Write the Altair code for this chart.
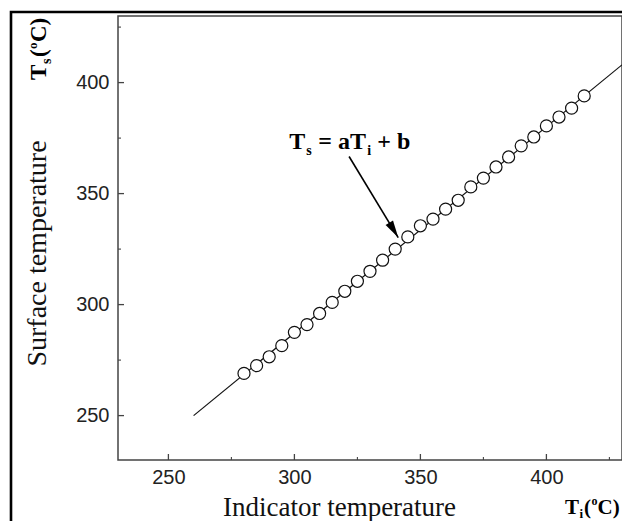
import altair as alt
import pandas as pd

# ---- data ----
indicator_T = [280, 285, 290, 295, 300, 305, 310, 315, 320, 325, 330, 335, 340, 345,
               350, 355, 360, 365, 370, 375, 380, 385, 390, 395, 400, 405, 410, 415]
surface_T = [269, 272.5, 276.5, 281.5, 287.5, 291, 296, 301, 306, 310.5, 315, 320, 325, 330.5,
             335.5, 338.5, 343, 347, 353, 357, 362, 366.5, 371.5, 375.5, 380.5, 384.5, 388.5, 394]
fit_x = [260, 430]
fit_y = [250, 408]
x_major = [250, 300, 350, 400]
x_minor = [275, 325, 375, 425]
y_major = [250, 300, 350, 400]
y_minor = [275, 325, 375, 425]
x_domain = [230, 430]
y_domain = [230, 430]
# annotation anchor (data coordinates) and arrow (start -> tip)
annot_x = [298]
annot_y = [370]
arrow_x = [321.7, 341.2]
arrow_y = [366.7, 330.2]

W, H = 504, 444
AX = "#444444"

xs = alt.Scale(domain=x_domain, nice=False, zero=False)
ys = alt.Scale(domain=y_domain, nice=False, zero=False)

pts = pd.DataFrame({"x": indicator_T, "y": surface_T})
fit = pd.DataFrame({"x": fit_x, "y": fit_y})
one = pd.DataFrame({"k": [0]})

x_axis = alt.Axis(values=x_major, ticks=False, domain=False, grid=False,
                  labelFont="Liberation Sans", labelFontSize=20, labelColor="#222222",
                  labelPadding=7,
                  title="Indicator temperature", titleFont="Liberation Serif",
                  titleFontSize=27, titleFontWeight="normal", titleColor="#111111",
                  titleX=221, titleY=55, titleAlign="center", titleBaseline="alphabetic")
y_axis = alt.Axis(values=y_major, ticks=False, domain=False, grid=False,
                  labelFont="Liberation Sans", labelFontSize=20, labelColor="#222222",
                  labelPadding=9,
                  title="Surface temperature", titleFont="Liberation Serif",
                  titleFontSize=28, titleFontWeight="normal", titleColor="#111111",
                  titleAngle=270, titleX=-73, titleY=237, titleAlign="center",
                  titleBaseline="alphabetic")

line = alt.Chart(fit).mark_line(color="#111111", strokeWidth=1.2).encode(
    x=alt.X("x:Q", scale=xs, axis=x_axis),
    y=alt.Y("y:Q", scale=ys, axis=y_axis),
)

points = alt.Chart(pts).mark_point(shape="circle", size=145, filled=False, fill="white",
                                   fillOpacity=1, stroke="#111111", strokeWidth=1.2,
                                   opacity=1).encode(
    x=alt.X("x:Q", scale=xs), y=alt.Y("y:Q", scale=ys))

# inward ticks
xmaj = alt.Chart(pd.DataFrame({"v": x_major})).mark_rule(color=AX, strokeWidth=1.3).encode(
    x=alt.X("v:Q", scale=xs), y=alt.value(H), y2=alt.value(H - 6))
xmin = alt.Chart(pd.DataFrame({"v": x_minor})).mark_rule(color=AX, strokeWidth=1.1).encode(
    x=alt.X("v:Q", scale=xs), y=alt.value(H), y2=alt.value(H - 3))
ymaj = alt.Chart(pd.DataFrame({"v": y_major})).mark_rule(color=AX, strokeWidth=1.3).encode(
    y=alt.Y("v:Q", scale=ys), x=alt.value(0), x2=alt.value(6))
ymin = alt.Chart(pd.DataFrame({"v": y_minor})).mark_rule(color=AX, strokeWidth=1.1).encode(
    y=alt.Y("v:Q", scale=ys), x=alt.value(0), x2=alt.value(3))

# annotation
ann = pd.DataFrame({"x": annot_x, "y": annot_y})
def ann_piece(txt, dx, dy, size):
    return alt.Chart(ann).mark_text(text=txt, font="Liberation Serif", fontWeight="bold",
                                    fontSize=size, align="left", baseline="alphabetic",
                                    dx=dx, dy=dy, color="#000000").encode(
        x=alt.X("x:Q", scale=xs), y=alt.Y("y:Q", scale=ys))

annotation = [
    ann_piece("T", 0, 0, 24),
    ann_piece("s", 17, 6, 14),
    ann_piece("= aT", 29, 0, 24),
    ann_piece("i", 78, 6, 14),
    ann_piece("+ b", 88, 0, 24),
]

arr = pd.DataFrame({"x": arrow_x, "y": arrow_y})
arrow_line = alt.Chart(arr).mark_line(color="#000000", strokeWidth=1.6).encode(
    x=alt.X("x:Q", scale=xs), y=alt.Y("y:Q", scale=ys))
arrow_head = alt.Chart(pd.DataFrame({"x": arrow_x[1:], "y": arrow_y[1:]})).mark_point(
    shape="M0,0L0.5,2L-0.5,2Z", size=300, filled=True, color="#000000", opacity=1,
    angle=149).encode(x=alt.X("x:Q", scale=xs), y=alt.Y("y:Q", scale=ys))

# unit labels beside the axis titles
def unit_piece(txt, x, y, size, angle=0):
    return alt.Chart(one).mark_text(text=txt, font="Liberation Serif", fontWeight="bold",
                                    fontSize=size, align="left", baseline="alphabetic",
                                    angle=angle, color="#000000").encode(
        x=alt.value(x), y=alt.value(y))

# vertical "Ts(oC)" reading bottom to top
yunit = [
    unit_piece("T", -72, 64, 23, 270),
    unit_piece("s", -67, 48, 14, 270),
    unit_piece("(", -72, 41, 23, 270),
    unit_piece("o", -81, 33, 13, 270),
    unit_piece("C)", -72, 26, 23, 270),
]
# horizontal "Ti(oC)"
xunit = [
    unit_piece("T", 447, 498, 21),
    unit_piece("i", 461.5, 502, 13),
    unit_piece("(", 466, 498, 21),
    unit_piece("o", 473.5, 489, 12),
    unit_piece("C)", 479.5, 498, 21),
]

# outer black frame of the figure (right/bottom edges fall outside the page)
frame = alt.Chart(one).mark_rect(fillOpacity=0, stroke="#000000", strokeWidth=2.6).encode(
    x=alt.value(-107), x2=alt.value(560), y=alt.value(-4), y2=alt.value(560))

chart = alt.layer(
    frame, line, xmaj, xmin, ymaj, ymin, points, arrow_line, arrow_head,
    *annotation, *yunit, *xunit
).properties(
    width=W, height=H,
    autosize=alt.AutoSizeParams(type="none"),
    padding={"left": 110, "top": 8, "right": 0, "bottom": 61},
    background="white",
).configure_view(stroke=AX, strokeWidth=1.5)

chart.save("out.html", embed_options={"renderer": "svg", "actions": False})
